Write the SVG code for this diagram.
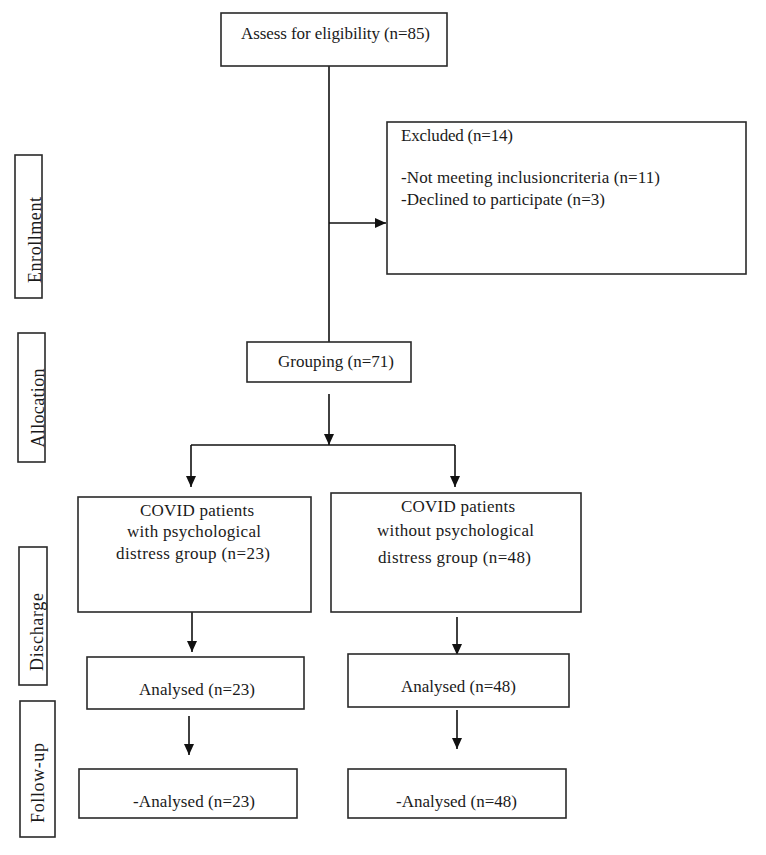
<svg xmlns="http://www.w3.org/2000/svg" width="766" height="855" viewBox="0 0 766 855">
<style>
.box{fill:#fff;stroke:#2a2a2a;stroke-width:1.6}
.t{font-family:"Liberation Serif","Times New Roman",serif;font-size:17px;fill:#1a1a1a}
.lbl{font-family:"Liberation Serif","Times New Roman",serif;font-size:18px;fill:#1a1a1a;text-anchor:middle}
.ln{fill:none;stroke:#111;stroke-width:1.6}
</style>
<defs>
<marker id="ah" markerUnits="userSpaceOnUse" markerWidth="12" markerHeight="10" refX="11" refY="5" orient="auto">
<path d="M0,0 L11,5 L0,10 Z" fill="#111"/>
</marker>
</defs>
<rect width="766" height="855" fill="#fff"/>
<g id="connectors">
<path class="ln" d="M329,66 V342"/>
<path class="ln" d="M329,223 H386" marker-end="url(#ah)"/>
<path class="ln" d="M329,394 V445" marker-end="url(#ah)"/>
<path class="ln" d="M191,445 H455"/>
<path class="ln" d="M191,445 V487" marker-end="url(#ah)"/>
<path class="ln" d="M455,445 V487" marker-end="url(#ah)"/>
<path class="ln" d="M192,612 V652" marker-end="url(#ah)"/>
<path class="ln" d="M457,617 V655" marker-end="url(#ah)"/>
<path class="ln" d="M189,716 V755" marker-end="url(#ah)"/>
<path class="ln" d="M457,710 V749" marker-end="url(#ah)"/>
</g>
<g id="enrollment-label"><rect class="box" x="15" y="155" width="27" height="143"/><text class="lbl" transform="translate(41,240) rotate(-90)" textLength="86">Enrollment</text></g>
<g id="allocation-label"><rect class="box" x="18" y="333" width="27" height="129"/><text class="lbl" transform="translate(44,408) rotate(-90)" textLength="79">Allocation</text></g>
<g id="discharge-label"><rect class="box" x="19" y="547" width="28" height="138"/><text class="lbl" transform="translate(43,632) rotate(-90)" textLength="78">Discharge</text></g>
<g id="followup-label"><rect class="box" x="20" y="701" width="35" height="136"/><text class="lbl" transform="translate(44,783) rotate(-90)" textLength="80">Follow-up</text></g>
<g id="assess"><rect class="box" x="221" y="13" width="226" height="53"/><text class="t" x="241" y="39" textLength="189">Assess for eligibility (n=85)</text></g>
<g id="excluded"><rect class="box" x="387" y="122" width="359" height="152"/>
<text class="t" x="401" y="141" textLength="112">Excluded (n=14)</text>
<text class="t" x="401" y="183" textLength="259">-Not meeting inclusioncriteria (n=11)</text>
<text class="t" x="401" y="205" textLength="204">-Declined to participate (n=3)</text></g>
<g id="grouping"><rect class="box" x="247" y="342" width="164" height="40"/><text class="t" x="278" y="367" textLength="116">Grouping (n=71)</text></g>
<g id="with-distress"><rect class="box" x="78" y="497" width="233" height="115"/>
<text class="t" x="140" y="516" textLength="114">COVID patients</text>
<text class="t" x="127" y="537" textLength="134">with psychological</text>
<text class="t" x="116" y="559" textLength="154">distress group (n=23)</text></g>
<g id="without-distress"><rect class="box" x="331" y="493" width="250" height="119"/>
<text class="t" x="401" y="512" textLength="114">COVID patients</text>
<text class="t" x="377" y="536" textLength="157">without psychological</text>
<text class="t" x="378" y="563" textLength="153">distress group (n=48)</text></g>
<g id="analysed-23"><rect class="box" x="87" y="657" width="217" height="52"/><text class="t" x="139" y="695" textLength="116">Analysed (n=23)</text></g>
<g id="analysed-48"><rect class="box" x="348" y="654" width="221" height="53"/><text class="t" x="401" y="692" textLength="115">Analysed (n=48)</text></g>
<g id="followup-23"><rect class="box" x="79" y="769" width="218" height="49"/><text class="t" x="133" y="807" textLength="122">-Analysed (n=23)</text></g>
<g id="followup-48"><rect class="box" x="348" y="769" width="218" height="49"/><text class="t" x="396" y="807" textLength="121">-Analysed (n=48)</text></g>
</svg>
